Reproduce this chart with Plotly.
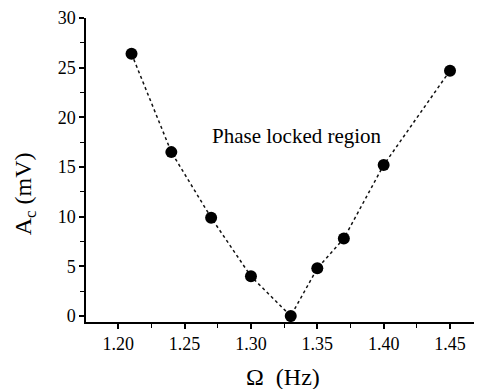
import plotly.graph_objects as go

freq = [1.21, 1.24, 1.27, 1.30, 1.33, 1.35, 1.37, 1.40, 1.45]
amp = [26.4, 16.5, 9.9, 4.0, 0.0, 4.8, 7.8, 15.2, 24.7]
x_ticks = [1.20, 1.25, 1.30, 1.35, 1.40, 1.45]
x_tick_labels = ["1.20", "1.25", "1.30", "1.35", "1.40", "1.45"]
y_ticks = [0, 5, 10, 15, 20, 25, 30]

font = "Liberation Serif, Times New Roman, serif"

fig = go.Figure()
fig.add_trace(go.Scatter(
    x=freq, y=amp, mode="lines+markers",
    line=dict(color="#111", width=1.5, dash="dot"),
    marker=dict(color="black", size=12),
    showlegend=False,
))
fig.add_annotation(x=1.3347, y=18.15, text="Phase locked region", showarrow=False,
                   font=dict(family=font, size=21, color="black"))
# axis titles
fig.add_annotation(xref="paper", yref="paper", x=0.5, y=-0.18, text="Ω  (Hz)",
                   showarrow=False, xanchor="center", yanchor="middle",
                   font=dict(family=font, size=24, color="black"))
fig.add_annotation(xref="paper", yref="paper", x=-0.1548, y=0.42, text="A<sub>c</sub> (mV)",
                   showarrow=False, xanchor="center", yanchor="middle", textangle=-90,
                   font=dict(family=font, size=24, color="black"))

axis_common = dict(
    showgrid=False, zeroline=False, showline=True, linecolor="black", linewidth=1.5,
    ticks="outside", tickcolor="black", ticklen=5, tickwidth=1.5,
    tickfont=dict(family=font, size=18, color="black"),
    minor=dict(ticks="outside", ticklen=4, tickcolor="black", tickwidth=1.2),
    mirror=False, automargin=False, ticklabeloverflow="allow",
)
fig.update_xaxes(range=[1.1757, 1.4726], tickvals=x_ticks, ticktext=x_tick_labels,
                 minor_dtick=0.025, **axis_common)
fig.update_yaxes(range=[-0.6, 30], tickvals=y_ticks,
                 minor_dtick=2.5, **axis_common)
fig.update_layout(width=482, height=389, margin=dict(l=78, r=10, t=10, b=75),
                  plot_bgcolor="white", paper_bgcolor="white")
fig.write_html("out.html")
